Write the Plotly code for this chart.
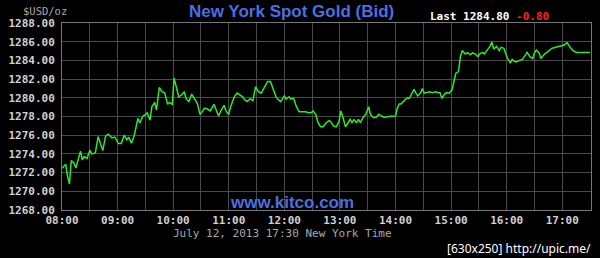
import plotly.graph_objects as go

DATE = "2013-07-12"
times = [
    "08:00","08:04","08:06","08:08","08:10","08:13","08:15","08:17","08:20","08:22",
    "08:24","08:27","08:30","08:32","08:36","08:39","08:41","08:44","08:47","08:50",
    "08:54","08:57","09:01","09:04","09:07","09:10","09:12","09:15","09:18","09:22",
    "09:24","09:27","09:30","09:32","09:35","09:37","09:40","09:42","09:45","09:48",
    "09:51","09:54","09:56","09:59","10:01","10:03","10:06","10:09","10:12","10:14",
    "10:17","10:20","10:23","10:26","10:29","10:31","10:34","10:37","10:40","10:44",
    "10:46","10:49","10:52","10:55","10:57","11:00","11:02","11:06","11:09","11:12",
    "11:15","11:17","11:20","11:23","11:26","11:29","11:32","11:35","11:37","11:40",
    "11:42","11:45","11:48","11:51","11:53","11:56","12:00","12:02","12:05","12:07",
    "12:10","12:13","12:16","12:19","12:23","12:26","12:29","12:31","12:34","12:36",
    "12:39","12:42","12:45","12:48","12:50","12:53","12:56","12:59","13:01","13:03",
    "13:06","13:08","13:11","13:13","13:15","13:18","13:20","13:22","13:25","13:28",
    "13:31","13:33","13:36","13:39","13:42","13:45","13:48","13:52","13:56","14:00",
    "14:02","14:04","14:06","14:09","14:12","14:15","14:17","14:20","14:22","14:24",
    "14:27","14:29","14:31","14:34","14:37","14:40","14:43","14:46","14:48","14:50",
    "14:53","14:55","14:58","15:01","15:03","15:05","15:08","15:10","15:12","15:15",
    "15:18","15:21","15:23","15:26","15:29","15:31","15:34","15:36","15:39","15:42",
    "15:44","15:46","15:49","15:52","15:54","15:57","15:59","16:01","16:04","16:06",
    "16:09","16:11","16:14","16:17","16:19","16:22","16:25","16:28","16:30","16:32",
    "16:35","16:37","16:40","16:43","16:45","16:49","16:53","16:56","17:00","17:02",
    "17:05","17:08","17:10","17:13","17:16","17:19","17:27","17:30",
]
bid = [
    1272.46,1272.90,1271.60,1270.80,1273.30,1273.00,1272.50,1273.35,1274.30,1273.35,
    1273.70,1273.50,1274.40,1274.00,1274.10,1275.85,1275.30,1274.35,1275.90,1276.10,
    1275.70,1275.80,1275.10,1275.10,1276.00,1275.50,1275.80,1275.15,1276.00,1277.80,
    1277.30,1278.00,1278.20,1278.40,1277.60,1279.05,1279.50,1278.70,1281.10,1280.65,
    1280.50,1279.30,1279.50,1279.30,1282.10,1281.20,1280.10,1280.30,1280.65,1279.90,
    1279.60,1280.40,1279.90,1279.40,1278.20,1278.50,1278.90,1278.80,1278.60,1279.30,
    1278.80,1278.05,1278.70,1279.20,1278.60,1278.20,1279.05,1280.10,1280.50,1280.30,
    1280.10,1279.80,1279.60,1279.90,1279.70,1281.20,1280.65,1280.50,1280.85,1281.50,
    1281.75,1281.75,1281.00,1280.10,1279.85,1279.60,1280.20,1279.85,1280.10,1279.85,
    1279.95,1279.05,1278.50,1278.50,1278.50,1278.40,1278.40,1278.60,1278.20,1277.45,
    1276.90,1276.90,1277.30,1277.55,1277.45,1277.00,1276.90,1277.45,1278.60,1278.00,
    1276.90,1277.20,1277.70,1277.35,1277.65,1277.35,1277.70,1277.35,1277.90,1278.25,
    1279.05,1278.20,1277.90,1277.90,1278.25,1278.05,1277.90,1278.00,1278.00,1278.05,
    1278.90,1279.35,1279.35,1279.70,1279.95,1279.95,1280.30,1280.90,1280.50,1280.20,
    1280.50,1281.00,1280.50,1280.55,1280.65,1280.55,1280.65,1280.55,1280.55,1279.95,
    1280.40,1280.55,1280.50,1280.85,1281.90,1282.60,1282.80,1284.40,1285.05,1284.70,
    1284.80,1284.60,1284.80,1284.70,1284.40,1284.70,1284.85,1284.70,1285.10,1285.50,
    1286.00,1285.20,1285.50,1285.05,1285.40,1285.30,1284.70,1284.20,1283.70,1284.10,
    1283.85,1283.85,1284.00,1284.10,1284.40,1284.85,1284.40,1284.20,1284.80,1285.10,
    1284.80,1284.20,1284.60,1284.85,1284.95,1285.30,1285.40,1285.50,1285.60,1285.65,
    1285.90,1285.50,1285.20,1284.95,1284.85,1284.85,1284.85,1284.85,
]
hour_ticks = ["08:00","09:00","10:00","11:00","12:00","13:00","14:00","15:00","16:00","17:00"]
y_ticks = [1268,1270,1272,1274,1276,1278,1280,1282,1284,1286,1288]

title_text = "New York Spot Gold (Bid)"
unit_text = "$USD/oz"
last_price = "1284.80"
change = "-0.80"
site_text = "www.kitco.com"
date_text = "July 12, 2013 17:30 New York Time"
watermark = "[630x250] http://upic.me/"

x = [f"{DATE} {t}" for t in times]
tickvals = [f"{DATE} {t}" for t in hour_ticks]

fig = go.Figure()
fig.add_trace(go.Scatter(x=x, y=bid, mode="lines",
                         line=dict(color="#2ee82e", width=1.5), hoverinfo="skip"))

mono = "DejaVu Sans Mono"
grid = "#4a4a4a"
fig.update_layout(
    width=600, height=258,
    margin=dict(l=58, r=8, t=23, b=48),
    paper_bgcolor="#000000", plot_bgcolor="#000000",
    showlegend=False,
    xaxis=dict(
        type="date",
        range=[f"{DATE} 08:00", f"{DATE} 17:31"],
        tickvals=tickvals, ticktext=hour_ticks,
        showgrid=True, gridcolor=grid, gridwidth=1,
        minor=dict(dtick=1800000, showgrid=True, gridcolor=grid, gridwidth=1),
        showline=True, mirror=True, linecolor="#777777", linewidth=1,
        ticks="", zeroline=False,
        tickfont=dict(family=mono, size=11, color="#d0d0d0", weight="bold"),
        ticklabelstandoff=0,
    ),
    yaxis=dict(
        range=[1268, 1288],
        tickvals=y_ticks, ticktext=[f"{v:.2f}" for v in y_ticks],
        showgrid=True, gridcolor=grid, gridwidth=1,
        showline=True, mirror=True, linecolor="#777777", linewidth=1,
        ticks="", zeroline=False,
        tickfont=dict(family=mono, size=11, color="#d0d0d0", weight="bold"),
        ticklabelstandoff=4,
    ),
)

fig.add_annotation(text=title_text, xref="paper", yref="paper", x=0.4335, y=1.063,
                   xanchor="center", yanchor="middle", showarrow=False,
                   font=dict(family="Liberation Sans", size=17, color="#4b6fe3", weight="bold"))
fig.add_annotation(text=unit_text, xref="paper", yref="paper", x=-0.032, y=1.062,
                   xanchor="center", yanchor="middle", showarrow=False,
                   font=dict(family=mono, size=10.5, color="#a8a8a8"))
fig.add_annotation(text=f"Last {last_price} <span style='color:#ff2020'>{change}</span>",
                   xref="paper", yref="paper", x=0.808, y=1.036,
                   xanchor="center", yanchor="middle", showarrow=False,
                   font=dict(family=mono, size=11, color="#ffffff", weight="bold"))
fig.add_annotation(text=site_text, xref="paper", yref="paper", x=0.4345, y=0.038,
                   xanchor="center", yanchor="middle", showarrow=False,
                   font=dict(family="Liberation Sans", size=17, color="#4b6fe3", weight="bold"))
fig.add_annotation(text=date_text, xref="paper", yref="paper", x=0.4176, y=-0.124,
                   xanchor="center", yanchor="middle", showarrow=False,
                   font=dict(family=mono, size=11, color="#a8a8a8"))
fig.add_annotation(text=watermark, xref="paper", yref="paper", x=1.0037, y=-0.205,
                   xanchor="right", yanchor="middle", showarrow=False,
                   font=dict(family="Noto Sans", size=12, color="#ffffff"))

fig.write_html("out.html")
